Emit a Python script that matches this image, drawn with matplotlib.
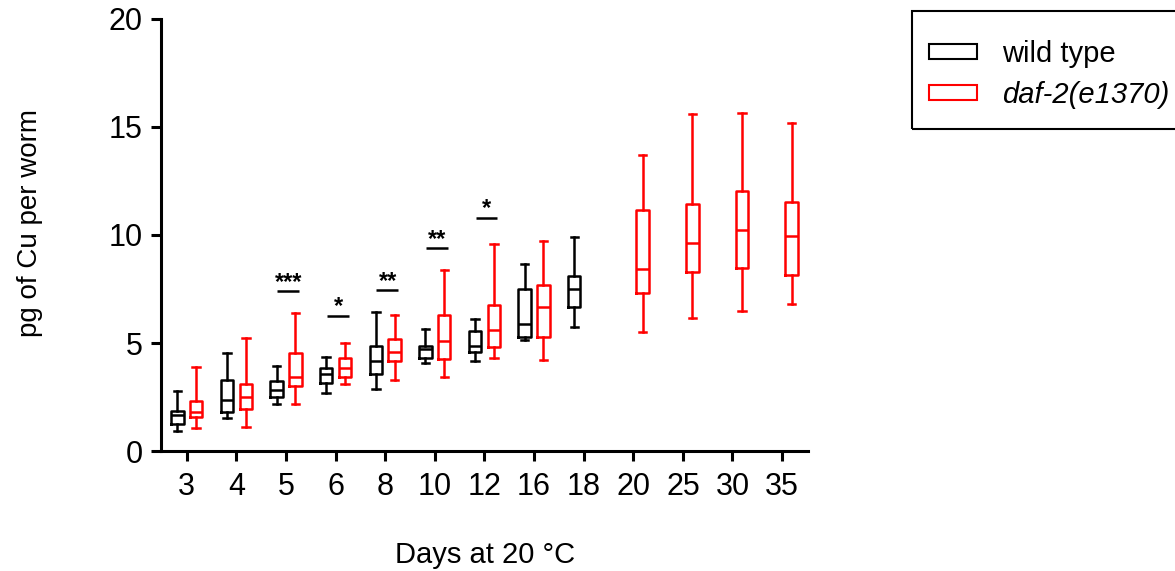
import numpy as np
import matplotlib
matplotlib.use("Agg")
import matplotlib.pyplot as plt
from matplotlib.patches import Patch, Rectangle

plt.rcParams['font.family'] = ['Liberation Sans', 'DejaVu Sans']

# days on the x axis
days = ['3', '4', '5', '6', '8', '10', '12', '16', '18', '20', '25', '30', '35']

# wild type (days 3 .. 18)
wt_idx = [0, 1, 2, 3, 4, 5, 6, 7, 8]
wt_lo  = [0.95, 1.51, 2.16, 2.67, 2.88, 4.07, 4.15, 5.12, 5.74]
wt_q1  = [1.25, 1.79, 2.51, 3.16, 3.58, 4.29, 4.60, 5.28, 6.68]
wt_med = [1.68, 2.38, 2.82, 3.58, 4.18, 4.72, 4.88, 5.89, 7.51]
wt_q3  = [1.87, 3.30, 3.25, 3.84, 4.88, 4.88, 5.54, 7.51, 8.10]
wt_hi  = [2.76, 4.52, 3.93, 4.37, 6.43, 5.66, 6.13, 8.64, 9.91]

# daf-2(e1370) (no day 18)
daf_idx = [0, 1, 2, 3, 4, 5, 6, 7, 9, 10, 11, 12]
daf_lo  = [1.06, 1.11, 2.19, 3.10, 3.29, 3.45, 4.30, 4.23, 5.51, 6.17, 6.48, 6.82]
daf_q1  = [1.56, 1.97, 3.02, 3.44, 4.18, 4.26, 4.81, 5.29, 7.33, 8.30, 8.47, 8.13]
daf_med = [1.83, 2.48, 3.45, 3.86, 4.58, 5.09, 5.58, 6.67, 8.43, 9.63, 10.23, 9.94]
daf_q3  = [2.33, 3.10, 4.54, 4.30, 5.18, 6.31, 6.77, 7.70, 11.16, 11.43, 12.05, 11.53]
daf_hi  = [3.89, 5.21, 6.39, 5.01, 6.28, 8.36, 9.58, 9.74, 13.69, 15.62, 15.65, 15.17]

# significance marks
sig_idx = [2, 3, 4, 5, 6]
sig_y = [7.39, 6.26, 7.44, 9.38, 10.80]
sig_txt = ['***', '*', '**', '**', '*']


def make_stats(lo, q1, med, q3, hi):
    return [dict(whislo=a, q1=b, med=c, q3=d, whishi=e, fliers=[])
            for a, b, c, d, e in zip(lo, q1, med, q3, hi)]


W, H = 1175, 571
fig = plt.figure(figsize=(W / 100, H / 100), dpi=100)
ax = fig.add_axes([0.137, 0.210, 0.551, 0.757])

off = 0.19
for stats, idx, col in [(make_stats(wt_lo, wt_q1, wt_med, wt_q3, wt_hi), wt_idx, 'black'),
                        (make_stats(daf_lo, daf_q1, daf_med, daf_q3, daf_hi), daf_idx, '#ff0000')]:
    sgn = -1 if col == 'black' else 1
    pos = [i + sgn * off for i in idx]
    lp = dict(color=col, linewidth=1.8)
    ax.bxp(stats, positions=pos, widths=0.25, capwidths=0.15, showfliers=False,
           boxprops=lp, whiskerprops=lp, capprops=lp,
           medianprops=dict(color=col, linewidth=1.8), manage_ticks=False)

for i, y, t in zip(sig_idx, sig_y, sig_txt):
    ax.plot([i - 0.18, i + 0.26], [y, y], color='black', linewidth=1.8,
            solid_capstyle='butt')
    ax.annotate(t, (i + 0.05, y), xytext=(0, 2), textcoords='offset points',
                ha='center', va='baseline', fontsize=17, fontweight='bold')

ax.set_xlim(-0.52, 12.53)
ax.set_ylim(0, 20)
ax.set_xticks(range(len(days)))
ax.set_xticklabels(days)
ax.set_yticks([0, 5, 10, 15, 20])

for s in ['top', 'right']:
    ax.spines[s].set_visible(False)
for s in ['left', 'bottom']:
    ax.spines[s].set_linewidth(2.2)
ax.tick_params(width=2.2, length=7, labelsize=22)
ax.tick_params(axis='x', pad=8)
ax.tick_params(axis='y', pad=6)

ax.set_ylabel('pg of Cu per worm', fontsize=20, va='center')
ax.yaxis.set_label_coords(-0.2025, 0.527)
ax.set_xlabel('Days at 20 °C', fontsize=21, labelpad=28)

handles = [Patch(facecolor='white', edgecolor='black', linewidth=1.5),
           Patch(facecolor='white', edgecolor='#ff0000', linewidth=1.5)]
leg = fig.legend(handles, ['wild type', 'daf-2(e1370)'], loc='upper left',
                 bbox_to_anchor=(929 / W, 1 - 40 / H), fontsize=21, frameon=False,
                 handlelength=1.65, handleheight=0.4, handletextpad=0.85,
                 labelspacing=0.45, borderpad=0, borderaxespad=0)
leg.get_texts()[1].set_fontstyle('italic')

# legend frame, running off the right edge
fig.patches.append(Rectangle((912 / W, 1 - 129 / H), 0.3, 118 / H,
                             transform=fig.transFigure, facecolor='none',
                             edgecolor='black', linewidth=1.5))

fig.savefig('out.png', dpi=100)
